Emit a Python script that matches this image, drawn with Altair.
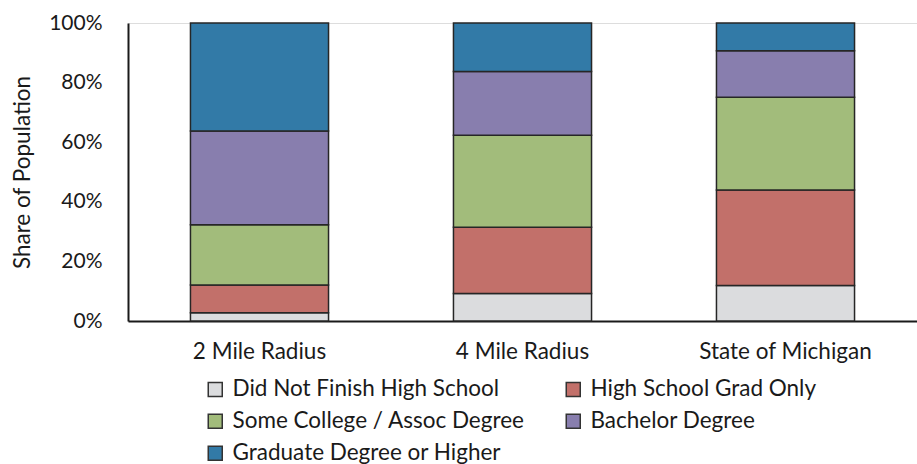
import altair as alt
import pandas as pd

regions = ["2 Mile Radius", "4 Mile Radius", "State of Michigan"]
levels = [
    "Did Not Finish High School",
    "High School Grad Only",
    "Some College / Assoc Degree",
    "Bachelor Degree",
    "Graduate Degree or Higher",
]
colors = ["#DBDCDE", "#C2706A", "#A2BC7B", "#887EAE", "#327AA7"]

dnf = [2.8, 9.2, 11.9]
hs = [9.3, 22.3, 32.1]
sc = [20.2, 30.8, 31.1]
bach = [31.5, 21.4, 15.6]
grad = [36.2, 16.3, 9.3]

series = [dnf, hs, sc, bach, grad]
rows = []
for li, (lvl, vals) in enumerate(zip(levels, series)):
    for r, v in zip(regions, vals):
        rows.append({"region": r, "level": lvl, "idx": li, "share": v / 100.0})
df = pd.DataFrame(rows)

FONT = "Lato"
FS = 22.5

chart = (
    alt.Chart(df)
    .mark_bar(stroke="#262626", strokeWidth=1.5)
    .encode(
        x=alt.X(
            "region:N",
            sort=regions,
            title=None,
            scale=alt.Scale(paddingInner=0.475, paddingOuter=0.2375),
            axis=alt.Axis(
                labelAngle=0,
                ticks=False,
                labelPadding=19,
                labelFontSize=FS,
                labelFont=FONT,
                labelColor="#1a1a1a",
                domainColor="#1a1a1a",
                domainWidth=2,
            ),
        ),
        y=alt.Y(
            "share:Q",
            stack="zero",
            title="Share of Population",
            scale=alt.Scale(domain=[0, 1]),
            axis=alt.Axis(
                format="%",
                values=[0, 0.2, 0.4, 0.6, 0.8, 1.0],
                grid=False,
                ticks=False,
                labelPadding=26,
                labelFontSize=21,
                labelFont=FONT,
                labelColor="#1a1a1a",
                titleFont=FONT,
                titleFontSize=FS,
                titleFontWeight="normal",
                titleColor="#1a1a1a",
                titlePadding=14,
                domainColor="#1a1a1a",
                domainWidth=2,
            ),
        ),
        color=alt.Color(
            "level:N",
            sort=levels,
            scale=alt.Scale(domain=levels, range=colors),
            legend=alt.Legend(
                title=None,
                orient="none",
                legendX=76,
                legendY=355,
                columns=2,
                direction="horizontal",
                columnPadding=37,
                rowPadding=9,
                symbolType="square",
                symbolSize=196,
                symbolStrokeColor="#333333",
                symbolStrokeWidth=1.5,
                labelFont=FONT,
                labelFontSize=FS,
                labelColor="#1a1a1a",
                labelLimit=400,
                labelOffset=6,
            ),
        ),
        order=alt.Order("idx:Q", sort="ascending"),
    )
    .properties(
        width=789,
        height=298,
        autosize=alt.AutoSizeParams(type="none"),
        padding={"left": 128, "top": 23, "right": 0, "bottom": 143},
    )
    .configure_view(stroke=None)
    .configure(background="white")
)

chart.save("out.html", embed_options={"renderer": "svg", "actions": False})
